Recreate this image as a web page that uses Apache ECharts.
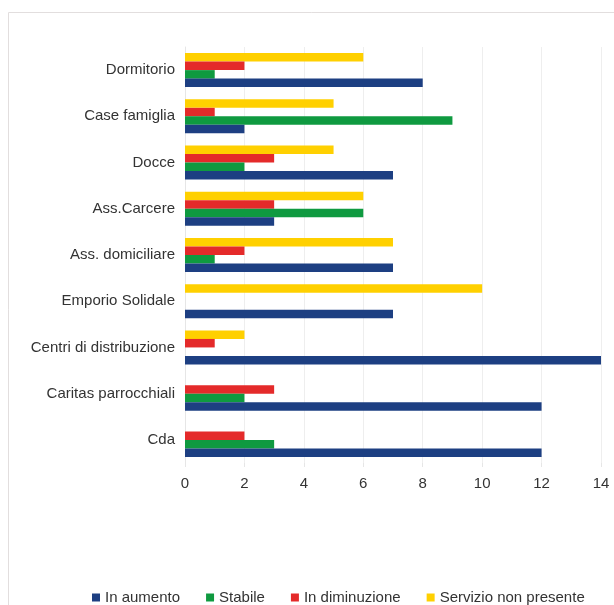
<!DOCTYPE html>
<html>
<head>
<meta charset="utf-8">
<script src="https://cdn.jsdelivr.net/npm/echarts@6/dist/echarts.min.js"></script>
<style>html,body{margin:0;padding:0;background:#fff}#c{width:614px;height:605px}</style>
</head>
<body>
<div id="c"></div>
<script>
// categories listed bottom-to-top (category axis runs upward)
const categories = ['Cda', 'Caritas parrocchiali', 'Centri di distribuzione', 'Emporio Solidale', 'Ass. domiciliare', 'Ass.Carcere', 'Docce', 'Case famiglia', 'Dormitorio'];
const inAumento = [12, 12, 14, 7, 7, 3, 7, 2, 8];
const stabile = [3, 2, 0, 0, 1, 6, 2, 9, 1];
const inDiminuzione = [2, 3, 1, 0, 2, 3, 3, 1, 2];
const servizioNonPresente = [0, 0, 2, 10, 7, 6, 5, 5, 6];
const seriesNames = ['In aumento', 'Stabile', 'In diminuzione', 'Servizio non presente'];
const colors = ['#1d3f82', '#0f9a40', '#e42a2a', '#ffd000'];
const seriesData = [inAumento, stabile, inDiminuzione, servizioNonPresente];

const chart = echarts.init(document.getElementById('c'), null, {renderer: 'canvas'});
const font = 'Liberation Sans, Arial, sans-serif';
// series drawn in reverse so "In aumento" sits at the bottom of each group
const order = [3, 2, 1, 0];
chart.setOption({
  animation: false,
  backgroundColor: '#fff',
  graphic: [{
    type: 'rect', shape: {x: 8.5, y: 12.5, width: 640, height: 620},
    style: {fill: 'none', stroke: '#e2dede', lineWidth: 1}, silent: true, z: -1
  }],
  grid: {left: 185, right: 13, top: 47, bottom: 142, containLabel: false},
  legend: {
    top: 585, left: 87, itemWidth: 8, itemHeight: 8, itemGap: 26,
    icon: 'rect',
    textStyle: {fontFamily: font, fontSize: 15, color: '#333', padding: [0, 0, 0, 0]},
    data: seriesNames
  },
  xAxis: {
    type: 'value', min: 0, max: 14, interval: 2,
    axisLine: {show: false},
    axisTick: {show: true, length: 4, lineStyle: {color: '#e6e6e6'}},
    splitLine: {show: true, lineStyle: {color: '#eeeeee'}},
    axisLabel: {fontFamily: font, fontSize: 15, color: '#333', margin: 13}
  },
  yAxis: {
    type: 'category', data: categories,
    axisLine: {show: true, lineStyle: {color: '#e6e6e6'}},
    axisTick: {show: false},
    axisLabel: {fontFamily: font, fontSize: 15, color: '#333', margin: 10}
  },
  series: order.map(i => ({
    name: seriesNames[i], type: 'bar', data: seriesData[i],
    barWidth: 8.5, barGap: '0%', barCategoryGap: '26%',
    itemStyle: {color: colors[i]}
  }))
});
</script>
</body>
</html>
